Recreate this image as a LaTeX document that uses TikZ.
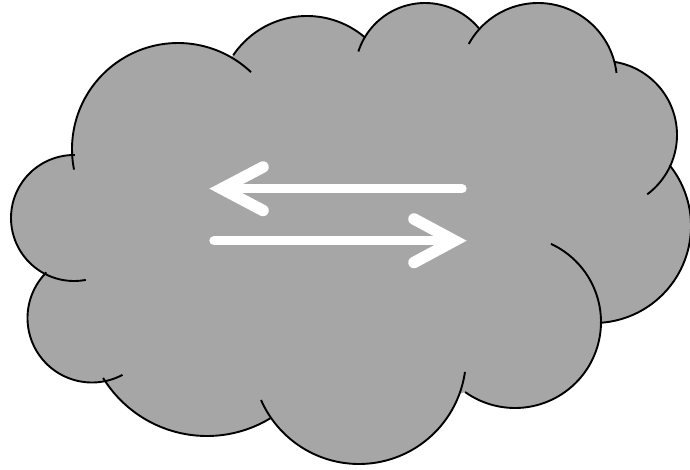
\documentclass[tikz,border=0pt]{standalone}
\definecolor{cloudgray}{RGB}{166,166,166}
\newcommand{\lobe}[5]{plot[domain=#4:#5,samples=70] ({#1+#3*cos(\x)},{#2+#3*sin(\x)})}
\newcommand{\nextlobe}[5]{-- plot[domain=#4:#5,samples=70] ({#1+#3*cos(\x)},{#2+#3*sin(\x)})}
\tikzset{
  outline/.style={draw=black,line width=1.9pt,line cap=butt,line join=round},
  whiteshaft/.style={draw=white,line width=9.4pt,line cap=round},
  whitehead/.style={draw=white,line width=11.5pt,line cap=round,line join=miter,miter limit=10}
}
\begin{document}
\begin{tikzpicture}[x=1pt,y=-1pt]
\useasboundingbox (0,0) rectangle (690,469);
% body of the cloud
\fill[cloudgray]
  \lobe{178}{149}{106}{176.2}{300}
  \nextlobe{307}{105}{89}{214}{310.9}
  \nextlobe{425}{73}{70}{210.3}{320.6}
  \nextlobe{538}{82}{79}{224}{345.4}
  \nextlobe{603}{135}{74}{279.3}{385.2}
  \nextlobe{594}{226}{97}{-38.7}{86.5}
  \nextlobe{515}{322}{86}{1}{125.5}
  \nextlobe{359}{357}{107}{20.1}{144.1}
  \nextlobe{207}{314}{122}{58.5}{148.4}
  \nextlobe{92}{318}{64.5}{78.7}{225}
  \nextlobe{74}{218}{63}{117}{270.9}
  -- cycle;
% outlines of the lobes
\draw[outline] \lobe{178}{149}{106}{168.8}{313.5};
\draw[outline] \lobe{307}{105}{89}{214}{310.9};
\draw[outline] \lobe{425}{73}{70}{197.9}{320.6};
\draw[outline] \lobe{538}{82}{79}{208.8}{353.4};
\draw[outline] \lobe{603}{135}{74}{279.3}{413.3};
\draw[outline] \lobe{594}{226}{97}{-38.7}{86.5};
\draw[outline] \lobe{515}{322}{86}{-65.3}{125.5};
\draw[outline] \lobe{359}{357}{107}{8}{156.3};
\draw[outline] \lobe{207}{314}{122}{58.5}{148.4};
\draw[outline] \lobe{92}{318}{64.5}{61.8}{225};
\draw[outline] \lobe{74}{218}{63}{79.2}{270.9};
% arrows
\coordinate (ltail) at (462,188.7);
\coordinate (ltip) at (221.7,188.7);
\coordinate (lbarbA) at (263,167);
\coordinate (lbarbB) at (263,210.5);
\coordinate (rtail) at (214,240.7);
\coordinate (rtip) at (454.5,240.7);
\coordinate (rbarbA) at (414,219);
\coordinate (rbarbB) at (414,262.5);
\draw[whiteshaft] (ltail) -- (ltip);
\draw[whitehead] (lbarbA) -- (ltip) -- (lbarbB);
\draw[whiteshaft] (rtail) -- (rtip);
\draw[whitehead] (rbarbA) -- (rtip) -- (rbarbB);
\end{tikzpicture}
\end{document}
